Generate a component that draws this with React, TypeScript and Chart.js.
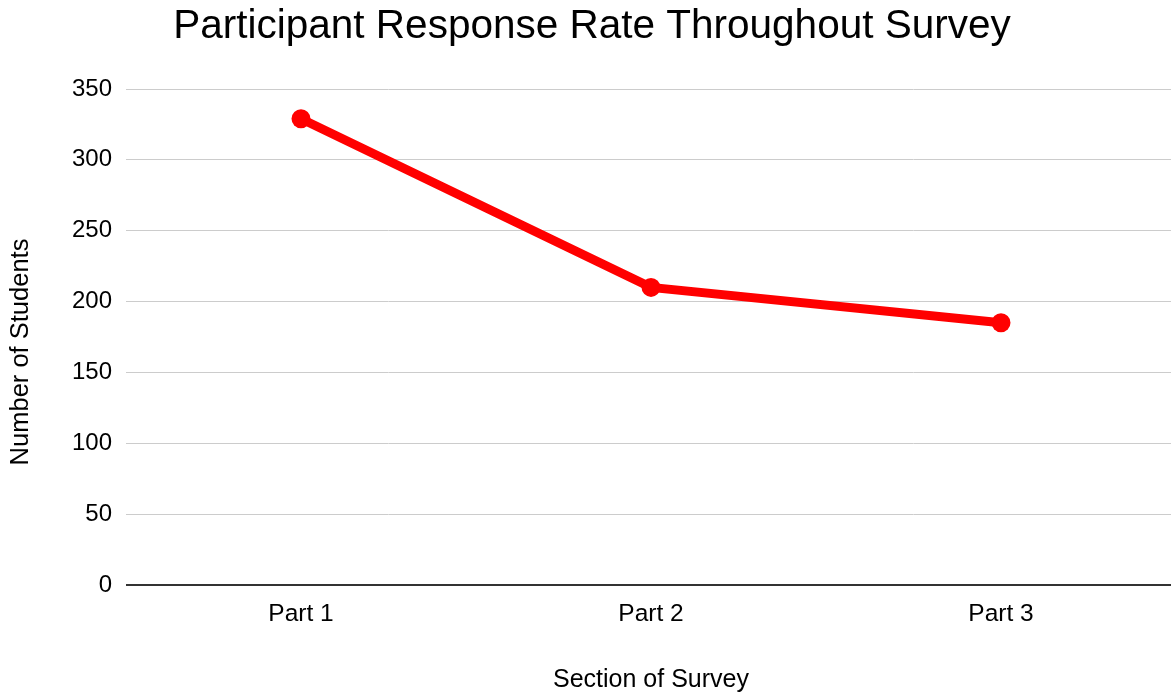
import React, { useEffect, useRef } from "react";
import { Chart, registerables } from "chart.js";

Chart.register(...registerables);

const categories = ["Part 1", "Part 2", "Part 3"];
const students = [329, 210, 185];
const yTicks = [0, 50, 100, 150, 200, 250, 300, 350];
const yTitle = "Number of Students";

const FONT = "'Liberation Sans', Arial, sans-serif";

const yTitlePlugin = {
  id: "yTitlePlugin",
  afterDraw(chart: any) {
    const ctx = chart.ctx;
    ctx.save();
    ctx.translate(21, 352);
    ctx.rotate(-Math.PI / 2);
    ctx.font = `25.5px ${FONT}`;
    ctx.fillStyle = "#000";
    ctx.textAlign = "center";
    ctx.textBaseline = "middle";
    ctx.fillText(yTitle, 0, 0);
    ctx.restore();
  },
};

export default function App() {
  const ref = useRef<HTMLCanvasElement | null>(null);

  useEffect(() => {
    document.body.style.margin = "0";
    const canvas = ref.current;
    if (!canvas) return;
    const chart = new Chart(canvas, {
      type: "line",
      data: {
        labels: categories,
        datasets: [
          {
            label: yTitle,
            data: students,
            borderColor: "#ff0000",
            backgroundColor: "#ff0000",
            borderWidth: 9,
            pointRadius: 9.5,
            pointHoverRadius: 9.5,
            pointBackgroundColor: "#ff0000",
            pointBorderWidth: 0,
            tension: 0,
          },
        ],
      },
      plugins: [yTitlePlugin],
      options: {
        animation: false,
        responsive: false,
        maintainAspectRatio: false,
        layout: { padding: { left: 8, right: 0, top: 0, bottom: 0 }, autoPadding: false },
        plugins: {
          legend: { display: false },
          tooltip: { enabled: false },
          title: {
            display: true,
            text: "Participant Response Rate Throughout Survey",
            color: "#000",
            font: { family: FONT, size: 40.5, weight: "normal" },
            padding: { top: 3, bottom: 37.4 },
          },
        },
        scales: {
          x: {
            type: "category",
            offset: true,
            grid: { display: false, drawTicks: false },
            border: { display: false },
            ticks: {
              color: "#000",
              font: { family: FONT, size: 24.5 },
              padding: 15,
              maxRotation: 0,
            },
            title: {
              display: true,
              text: "Section of Survey",
              color: "#000",
              font: { family: FONT, size: 25 },
              padding: { top: 0, bottom: 0 },
            },
            afterFit: (s: any) => {
              s.height = 110;
            },
          },
          y: {
            min: 0,
            max: 350,
            afterBuildTicks: (s: any) => {
              s.ticks = yTicks.map((v) => ({ value: v }));
            },
            grid: {
              drawTicks: false,
              color: (ctx: any) => (ctx.tick && ctx.tick.value === 0 ? "#333333" : "#cccccc"),
              lineWidth: (ctx: any) => (ctx.tick && ctx.tick.value === 0 ? 2 : 1),
            },
            border: { display: false },
            ticks: {
              color: "#000",
              font: { family: FONT, size: 24 },
              padding: 14,
            },
            afterFit: (s: any) => {
              s.width = 118;
            },
          },
        },
      },
    });
    return () => chart.destroy();
  }, []);

  return (
    <div
      style={{
        position: "fixed",
        left: 0,
        top: 0,
        width: 1171,
        height: 695,
        overflow: "hidden",
        background: "#fff",
      }}
    >
      <canvas ref={ref} width={1176} height={695} style={{ display: "block", width: 1176, height: 695 }} />
    </div>
  );
}
